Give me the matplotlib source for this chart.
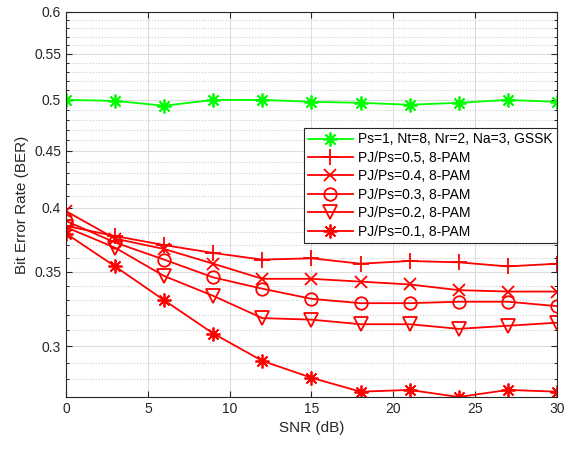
import numpy as np
import matplotlib
matplotlib.use('Agg')
from matplotlib import pyplot as plt
from matplotlib.ticker import FixedLocator, NullFormatter

plt.rcParams['font.family'] = ['Liberation Sans', 'DejaVu Sans']

snr = [0, 3, 6, 9, 12, 15, 18, 21, 24, 27, 30]

ber_gssk = [0.500, 0.499, 0.494, 0.500, 0.500, 0.498, 0.497, 0.495, 0.497, 0.500, 0.498]
ber_05 = [0.385, 0.377, 0.370, 0.364, 0.359, 0.360, 0.356, 0.358, 0.357, 0.354, 0.356]
ber_04 = [0.397, 0.375, 0.367, 0.356, 0.345, 0.345, 0.343, 0.341, 0.337, 0.336, 0.336]
ber_03 = [0.389, 0.372, 0.359, 0.346, 0.338, 0.331, 0.328, 0.328, 0.329, 0.329, 0.326]
ber_02 = [0.384, 0.368, 0.347, 0.333, 0.318, 0.317, 0.314, 0.314, 0.311, 0.313, 0.315]
ber_01 = [0.379, 0.354, 0.330, 0.308, 0.291, 0.281, 0.273, 0.274, 0.270, 0.274, 0.273]

labels = ['Ps=1, Nt=8, Nr=2, Na=3, GSSK',
          'PJ/Ps=0.5, 8-PAM',
          'PJ/Ps=0.4, 8-PAM',
          'PJ/Ps=0.3, 8-PAM',
          'PJ/Ps=0.2, 8-PAM',
          'PJ/Ps=0.1, 8-PAM']

yticks = [0.3, 0.35, 0.4, 0.45, 0.5, 0.55, 0.6]
xticks = [0, 5, 10, 15, 20, 25, 30]

fig = plt.figure(figsize=(5.66, 4.51), dpi=100)
ax = fig.add_axes([0.1166, 0.1197, 0.8674, 0.8537])

star = (8, 2, 0)
ax.plot(snr, ber_gssk, color='#00ff00', marker=star, ms=10, mew=1.3, lw=1.3, label=labels[0])
ax.plot(snr, ber_05, color='red', marker='+', ms=12, mew=1.3, lw=1.3, label=labels[1])
ax.plot(snr, ber_04, color='red', marker='x', ms=9, mew=1.3, lw=1.3, label=labels[2])
ax.plot(snr, ber_03, color='red', marker='o', ms=9, mew=1.3, mfc='none', lw=1.3, label=labels[3])
ax.plot(snr, ber_02, color='red', marker='v', ms=10, mew=1.3, mfc='none', lw=1.3, label=labels[4])
ax.plot(snr, ber_01, color='red', marker=star, ms=10, mew=1.3, lw=1.3, label=labels[5])

ax.set_yscale('log')
ax.set_ylim(0.27, 0.6)
ax.set_xlim(0, 30)
ax.yaxis.set_major_locator(FixedLocator(yticks))
ax.set_yticklabels([f'{t:g}' for t in yticks])
minor = [round(v, 2) for v in np.arange(0.27, 0.601, 0.01) if round(v, 2) not in yticks]
ax.yaxis.set_minor_locator(FixedLocator(minor))
ax.yaxis.set_minor_formatter(NullFormatter())
ax.set_xticks(xticks)

ax.grid(True, which='major', color='#dddddd', lw=0.8)
ax.grid(True, which='minor', axis='y', color='#cccccc', ls=':', lw=0.8)
ax.set_axisbelow(True)
ax.tick_params(direction='in', top=True, right=True, labelsize=10, colors='#262626', length=4)
ax.tick_params(which='minor', direction='in', right=True, length=2.5)
for s in ax.spines.values():
    s.set_color('#262626')

ax.set_xlabel('SNR (dB)', fontsize=11, color='#262626')
ax.set_ylabel('Bit Error Rate (BER)', fontsize=11, color='#262626')

leg = ax.legend(loc='upper right', bbox_to_anchor=(1.0, 0.698), fontsize=10, handlelength=3.2,
                fancybox=False, edgecolor='#262626', framealpha=1, borderpad=0.3,
                labelspacing=0.32, handletextpad=0.4, borderaxespad=0)
leg.get_frame().set_linewidth(0.8)

fig.savefig('out.png', dpi=100)
